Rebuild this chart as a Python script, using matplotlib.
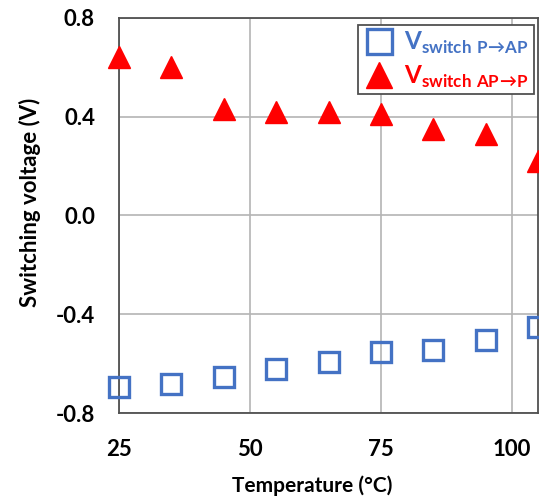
import matplotlib.pyplot as plt

plt.rcParams['font.family'] = ['Lato', 'DejaVu Sans']
plt.rcParams['mathtext.fontset'] = 'custom'
plt.rcParams['mathtext.rm'] = 'Lato'
plt.rcParams['mathtext.bf'] = 'Lato:bold'

temp = [25, 35, 45, 55, 65, 75, 85, 95, 105]
v_p_ap = [-0.694, -0.684, -0.654, -0.623, -0.594, -0.553, -0.545, -0.504, -0.453]
v_ap_p = [0.641, 0.60, 0.43, 0.42, 0.42, 0.41, 0.35, 0.33, 0.22]

blue = '#4472C4'
red = '#FF0000'

W, H = 539, 497
fig = plt.figure(figsize=(W / 100, H / 100), dpi=100)
ax = fig.add_axes([118.7 / W, 1 - 413 / H, (538.3 - 118.7) / W, (413 - 17.7) / H])

ax.plot(temp, v_p_ap, 's', ms=15, mfc='none', mec=blue, mew=2.4,
        label=r'$\mathbf{V}_{\mathbf{switch\ P\!\rightarrow\! AP}}$', clip_on=False, zorder=3)
ax.plot(temp, v_ap_p, '^', ms=15.5, color=red,
        label=r'$\mathbf{V}_{\mathbf{switch\ AP\!\rightarrow\! P}}$', clip_on=False, zorder=3)

ax.set_xlim(25, 105)
ax.set_ylim(-0.8, 0.8)
ax.set_xticks([25, 50, 75, 100])
ax.set_yticks([-0.8, -0.4, 0.0, 0.4, 0.8])
ax.set_yticklabels(['-0.8', '-0.4', '0.0', '0.4', '0.8'])
ax.grid(True, color='#B4B4B4', lw=1.2)
ax.set_axisbelow(True)
for s in ax.spines.values():
    s.set_color('#505050')
    s.set_linewidth(1.3)
ax.tick_params(length=0, labelsize=16)
ax.tick_params(axis='y', pad=17)
ax.tick_params(axis='x', pad=19)
for t in ax.get_xticklabels() + ax.get_yticklabels():
    t.set_fontweight('bold')

ax.set_xlabel('Temperature (°C)', fontsize=15, fontweight='bold', va='center')
ax.set_ylabel('Switching voltage (V)', fontsize=16, fontweight='bold', va='center')
ax.xaxis.set_label_coords(312 / W, 1 - 486 / H, transform=fig.transFigure)
ax.yaxis.set_label_coords(30 / W, 1 - 202 / H, transform=fig.transFigure)

leg = ax.legend(loc='upper left', bbox_to_anchor=(358.3 / W, 1 - 25 / H),
                bbox_transform=fig.transFigure, fontsize=17.5, markerscale=1.2,
                fancybox=False, edgecolor='#505050', framealpha=1,
                handletextpad=0.4, borderpad=0.2, borderaxespad=0,
                labelspacing=0.3, handlelength=1.3)
leg.get_frame().set_linewidth(1.3)
leg.get_texts()[0].set_color(blue)
leg.get_texts()[1].set_color(red)

fig.savefig('out.png', dpi=100)
